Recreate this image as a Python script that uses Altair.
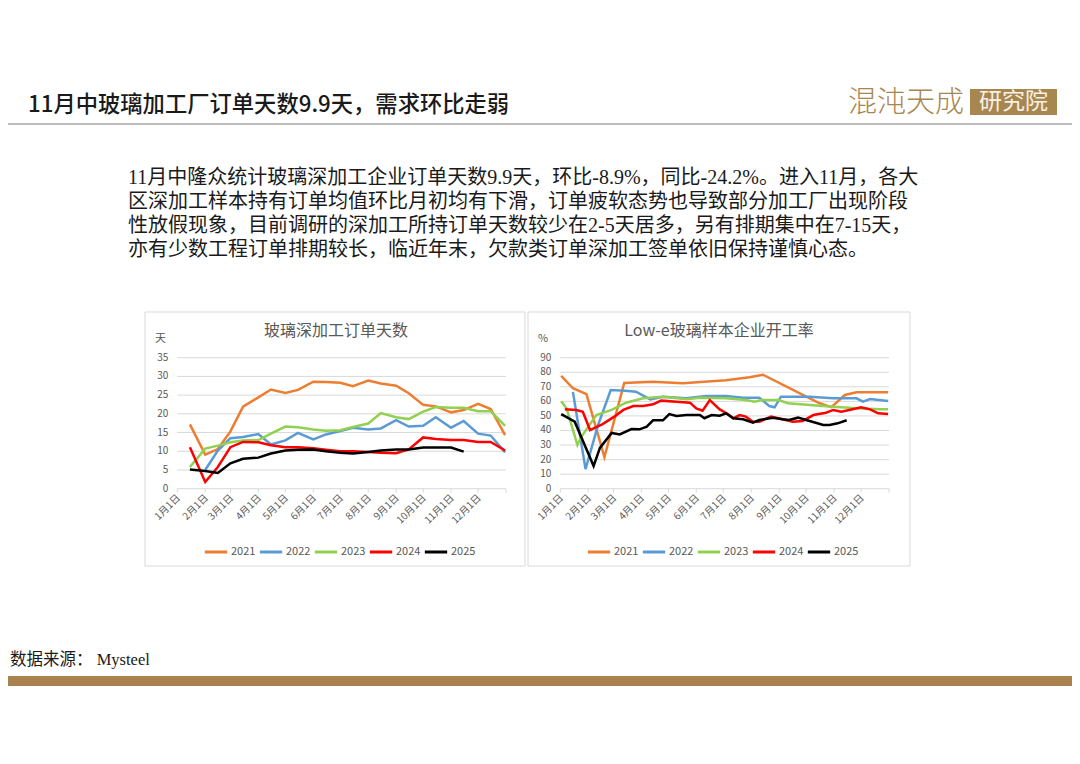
import altair as alt
import pandas as pd

# ---------------- data ----------------
YEARS = ["2021", "2022", "2023", "2024", "2025"]
COLORS = ["#ED7D31", "#5B9BD5", "#92D050", "#FF0000", "#000000"]

MONTH_TICKS = ["2021-01-01", "2021-02-01", "2021-03-01", "2021-04-01", "2021-05-01", "2021-06-01",
               "2021-07-01", "2021-08-01", "2021-09-01", "2021-10-01", "2021-11-01", "2021-12-01",
               "2022-01-01"]
MONTH_LABELS = ["1月1日", "2月1日", "3月1日", "4月1日", "5月1日", "6月1日",
                "7月1日", "8月1日", "9月1日", "10月1日", "11月1日", "12月1日"]

# left chart: glass deep-processing order days (semi-monthly)
ORDER_DATES = ["01-15", "02-01", "02-15", "03-01", "03-15", "04-01", "04-15", "05-01", "05-15",
               "06-01", "06-15", "07-01", "07-15", "08-01", "08-15", "09-01", "09-15", "10-01",
               "10-15", "11-01", "11-15", "12-01", "12-15", "12-31"]
ORDER_2021 = [17.2, 9.1, 10.6, 15.3, 21.9, 24.4, 26.5, 25.6, 26.4, 28.6, 28.5, 28.3, 27.4, 28.9,
              28.1, 27.5, 25.5, 22.4, 22.0, 20.4, 21.0, 22.7, 21.3, 14.3]
ORDER_2022 = [None, 5.0, 10.2, 13.5, 13.8, 14.6, 11.8, 12.9, 14.9, 13.2, 14.5, 15.4, 16.3, 15.8,
              16.1, 18.3, 16.6, 16.8, 19.1, 16.3, 18.1, 14.7, 14.2, 9.7]
ORDER_2023 = [5.8, 10.7, 11.5, 12.4, 12.9, 13.0, 14.7, 16.6, 16.4, 15.8, 15.5, 15.6, 16.5, 17.4,
              20.2, 19.1, 18.6, 20.6, 21.8, 21.6, 21.6, 20.7, 20.7, 16.8]
ORDER_2024 = [11.1, 1.8, 5.8, 11.1, 12.5, 12.4, 11.6, 11.1, 11.1, 10.8, 10.4, 10.0, 10.0, 9.8,
              9.6, 9.5, 10.5, 13.7, 13.3, 13.0, 13.0, 12.5, 12.5, 10.2]
ORDER_2025 = [5.1, 4.7, 4.2, 6.8, 8.0, 8.3, 9.4, 10.2, 10.4, 10.5, 10.0, 9.6, 9.4, 9.8, 10.2,
              10.5, 10.5, 11.0, 11.0, 11.0, 9.9]

# right chart: Low-e glass operating rate (%)
LOWE_DATES_2021 = ["01-02", "01-15", "01-30", "02-19", "03-13", "04-14", "05-17", "07-04", "07-30",
                   "08-14", "10-16", "10-29", "11-13", "11-26", "12-31"]
LOWE_2021 = [77.5, 69.0, 65.0, 21.7, 72.7, 73.5, 72.4, 74.5, 76.5, 78.3, 58.7, 56.0, 64.4, 66.2, 66.2]

LOWE_DATES_2022 = ["01-15", "01-29", "02-12", "02-26", "03-14", "03-26", "04-11", "04-25", "05-21",
                   "06-12", "07-04", "07-23", "08-10", "08-21", "08-27", "09-03", "10-05", "10-31",
                   "11-26", "12-03", "12-11", "12-31"]
LOWE_2022 = [66.5, 13.5, 43.8, 67.8, 67.3, 66.6, 61.4, 63.2, 62.1, 63.7, 63.7, 62.5, 62.5, 56.8,
             55.9, 63.2, 63.2, 62.1, 62.1, 59.8, 61.6, 60.2]

LOWE_DATES_2023 = ["01-02", "01-08", "01-20", "01-24", "02-10", "02-27", "03-15", "04-03", "04-25",
                   "05-21", "06-05", "07-04", "07-26", "08-05", "08-12", "08-31", "09-11", "10-05",
                   "10-31", "11-26", "12-22", "12-31"]
LOWE_2023 = [60.0, 55.2, 30.0, 35.3, 50.6, 54.1, 59.1, 62.1, 63.2, 61.4, 62.5, 62.1, 60.9, 59.8,
             60.9, 60.9, 58.7, 57.5, 56.3, 55.2, 54.5, 54.5]

LOWE_DATES_2024 = ["01-06", "01-19", "01-26", "02-03", "02-17", "03-02", "03-12", "03-23", "04-03",
                   "04-14", "04-23", "05-10", "05-25", "06-01", "06-08", "06-16", "06-27", "07-06",
                   "07-12", "07-19", "07-26", "08-03", "08-10", "08-23", "08-31", "09-16", "09-27",
                   "10-09", "10-23", "10-31", "11-09", "11-18", "12-01", "12-11", "12-20", "12-31"]
LOWE_2024 = [54.5, 54.1, 52.9, 40.3, 44.4, 49.5, 54.1, 56.8, 56.8, 58.0, 60.5, 59.8, 59.1, 55.2,
             53.6, 60.9, 54.5, 51.3, 48.4, 50.6, 49.5, 46.0, 46.0, 49.5, 48.4, 46.0, 46.5, 50.6,
             52.2, 54.1, 52.9, 54.1, 55.9, 54.5, 51.8, 51.3]

LOWE_DATES_2025 = ["01-02", "01-17", "02-07", "02-14", "02-27", "03-08", "03-21", "03-30", "04-07",
                   "04-14", "04-25", "05-02", "05-10", "05-21", "06-05", "06-10", "06-18", "06-27",
                   "07-04", "07-12", "07-23", "08-03", "08-10", "08-25", "09-05", "09-12", "09-22",
                   "10-01", "10-20", "10-27", "11-05", "11-15"]
LOWE_2025 = [51.2, 46.0, 15.6, 28.0, 38.3, 37.3, 41.0, 40.8, 42.6, 47.0, 47.0, 51.3, 50.0, 50.6,
             50.6, 48.4, 50.6, 50.2, 51.8, 48.4, 47.7, 45.3, 47.2, 48.8, 47.7, 47.2, 48.8, 47.2,
             43.8, 43.8, 44.9, 47.0]

TITLE = "11月中玻璃加工厂订单天数9.9天，需求环比走弱"
PARAGRAPH = [
    "11月中隆众统计玻璃深加工企业订单天数9.9天，环比-8.9%，同比-24.2%。进入11月，各大",
    "区深加工样本持有订单均值环比月初均有下滑，订单疲软态势也导致部分加工厂出现阶段",
    "性放假现象，目前调研的深加工所持订单天数较少在2-5天居多，另有排期集中在7-15天，",
    "亦有少数工程订单排期较长，临近年末，欠款类订单深加工签单依旧保持谨慎心态。",
]
SOURCE = "数据来源： Mysteel"
LEFT_TITLE = "玻璃深加工订单天数"
RIGHT_TITLE = "Low-e玻璃样本企业开工率"

# ---------------- tables ----------------
def build(pairs):
    rows = []
    for year, dates, vals in pairs:
        for d, v in zip(dates, vals):
            if v is not None:
                rows.append({"date": pd.Timestamp(f"2021-{d}"), "value": v, "year": year})
    return pd.DataFrame(rows)

left_df = build([(y, ORDER_DATES, v) for y, v in
                 zip(YEARS, [ORDER_2021, ORDER_2022, ORDER_2023, ORDER_2024, ORDER_2025])])
right_df = build([
    ("2021", LOWE_DATES_2021, LOWE_2021),
    ("2022", LOWE_DATES_2022, LOWE_2022),
    ("2023", LOWE_DATES_2023, LOWE_2023),
    ("2024", LOWE_DATES_2024, LOWE_2024),
    ("2025", LOWE_DATES_2025, LOWE_2025),
])
ticks_df = pd.DataFrame({"d": pd.to_datetime(MONTH_TICKS)})
labels_df = pd.DataFrame({"d": pd.to_datetime(MONTH_TICKS[:12]), "lab": MONTH_LABELS})

FONT = "Noto Sans CJK SC"
SERIF = "Liberation Serif, Noto Sans CJK SC"
GRAY = "#595959"
GRID = "#D9D9D9"
GOLD = "#A8864F"
one = pd.DataFrame({"k": [0]})

X0 = alt.DateTime(year=2021, month=1, date=1)
X1 = alt.DateTime(year=2022, month=1, date=1)


def text(txt, x, y, size, color="#262626", font=FONT, weight="normal", align="left", **kw):
    return alt.Chart(one).mark_text(fontSize=size, color=color, font=font, fontWeight=weight,
                                    align=align, baseline="middle", **kw).encode(
        x=alt.value(x), y=alt.value(y), text=alt.value(txt))


def box(x, x2, y, y2, fill, stroke=None):
    kw = {"fill": fill}
    if stroke:
        kw.update(stroke=stroke, strokeWidth=1)
    return alt.Chart(one).mark_rect(**kw).encode(
        x=alt.value(x), x2=alt.value(x2), y=alt.value(y), y2=alt.value(y2))


def panel(df, ymax, ystep, xr, yr, legend_x, legend_y):
    xs = alt.Scale(domain=[X0, X1], range=xr, nice=False)
    ys = alt.Scale(domain=[0, ymax], range=yr, nice=False)
    grid_df = pd.DataFrame({"v": list(range(0, ymax + 1, ystep))})
    grid = alt.Chart(grid_df).mark_rule(color=GRID, strokeWidth=1).encode(
        y=alt.Y("v:Q", scale=ys, axis=None),
        x=alt.XDatum(X0, type="temporal", scale=xs, axis=None),
        x2=alt.X2Datum(X1))
    ylab = alt.Chart(grid_df).mark_text(align="right", baseline="middle", dx=-9, fontSize=10,
                                         color=GRAY, font=FONT).encode(
        y=alt.Y("v:Q", scale=ys, axis=None),
        x=alt.XDatum(X0, type="temporal", scale=xs, axis=None),
        text="v:Q")
    tks = alt.Chart(ticks_df).mark_rule(color=GRID, strokeWidth=1).encode(
        x=alt.X("d:T", scale=xs, axis=None),
        y=alt.YDatum(0, scale=ys, axis=None),
        y2=alt.value(yr[0] + 4))
    xlab = alt.Chart(labels_df).mark_text(align="right", baseline="middle", angle=315,
                                           fontSize=10, color=GRAY, font=FONT, dx=2).encode(
        x=alt.X("d:T", scale=xs, axis=None),
        y=alt.value(yr[0] + 9),
        text="lab:N")
    lines = alt.Chart(df).mark_line(strokeWidth=2.5).encode(
        x=alt.X("date:T", scale=xs, axis=None),
        y=alt.Y("value:Q", scale=ys, axis=None),
        color=alt.Color("year:N", scale=alt.Scale(domain=YEARS, range=COLORS),
                        legend=alt.Legend(orient="none", legendX=legend_x, legendY=legend_y,
                                          direction="horizontal", title=None,
                                          symbolType="stroke", symbolStrokeWidth=3,
                                          symbolSize=500, labelFontSize=11, labelColor=GRAY,
                                          labelFont=FONT, labelOffset=2, columnPadding=-3,
                                          padding=0)))
    return alt.layer(grid, tks, ylab, xlab, lines)


W, H = 1064, 690
decos = [
    text(TITLE, 20, 97, 22.3, color="#1a1a1a", weight=500),
    alt.Chart(one).mark_rule(color="#BDBDBD", strokeWidth=2).encode(
        x=alt.value(0), x2=alt.value(W), y=alt.value(116)),
    text("混沌天成", 840, 95, 29, color=GOLD, weight=300),
    box(962, 1049, 81, 107, GOLD),
    text("研究院", 1005.5, 94, 23, color="#F7F1E6", align="center"),
    text("\n".join(PARAGRAPH), 120, 170, 20, color="#1a1a1a", font=SERIF,
         lineBreak="\n", lineHeight=24),
    box(137, 517, 304, 558, "white", GRID),
    box(520, 902, 304, 558, "white", GRID),
    text(LEFT_TITLE, 328, 323, 16, color=GRAY, align="center"),
    text(RIGHT_TITLE, 711, 323, 16, color=GRAY, align="center"),
    text("天", 147, 331, 11, color=GRAY),
    text("%", 530, 331, 11, color=GRAY),
    text(SOURCE, 2, 652, 16.5, color="#1a1a1a", font=SERIF),
    box(0, W, 668, 678, "#A9824F"),
]

left = panel(left_df, 35, 5, [169.3, 498], [480.7, 349.7], 195, 531)
right = panel(right_df, 90, 10, [552.3, 881], [480.7, 349.7], 578, 531)

chart = alt.layer(*decos, left, right).resolve_scale(
    x="independent", y="independent", color="independent"
).properties(
    width=W, height=H, padding=0, background="white",
    autosize=alt.AutoSizeParams(type="none"),
).configure_view(stroke=None)

chart.save("out.html", embed_options={"renderer": "svg", "actions": False})
